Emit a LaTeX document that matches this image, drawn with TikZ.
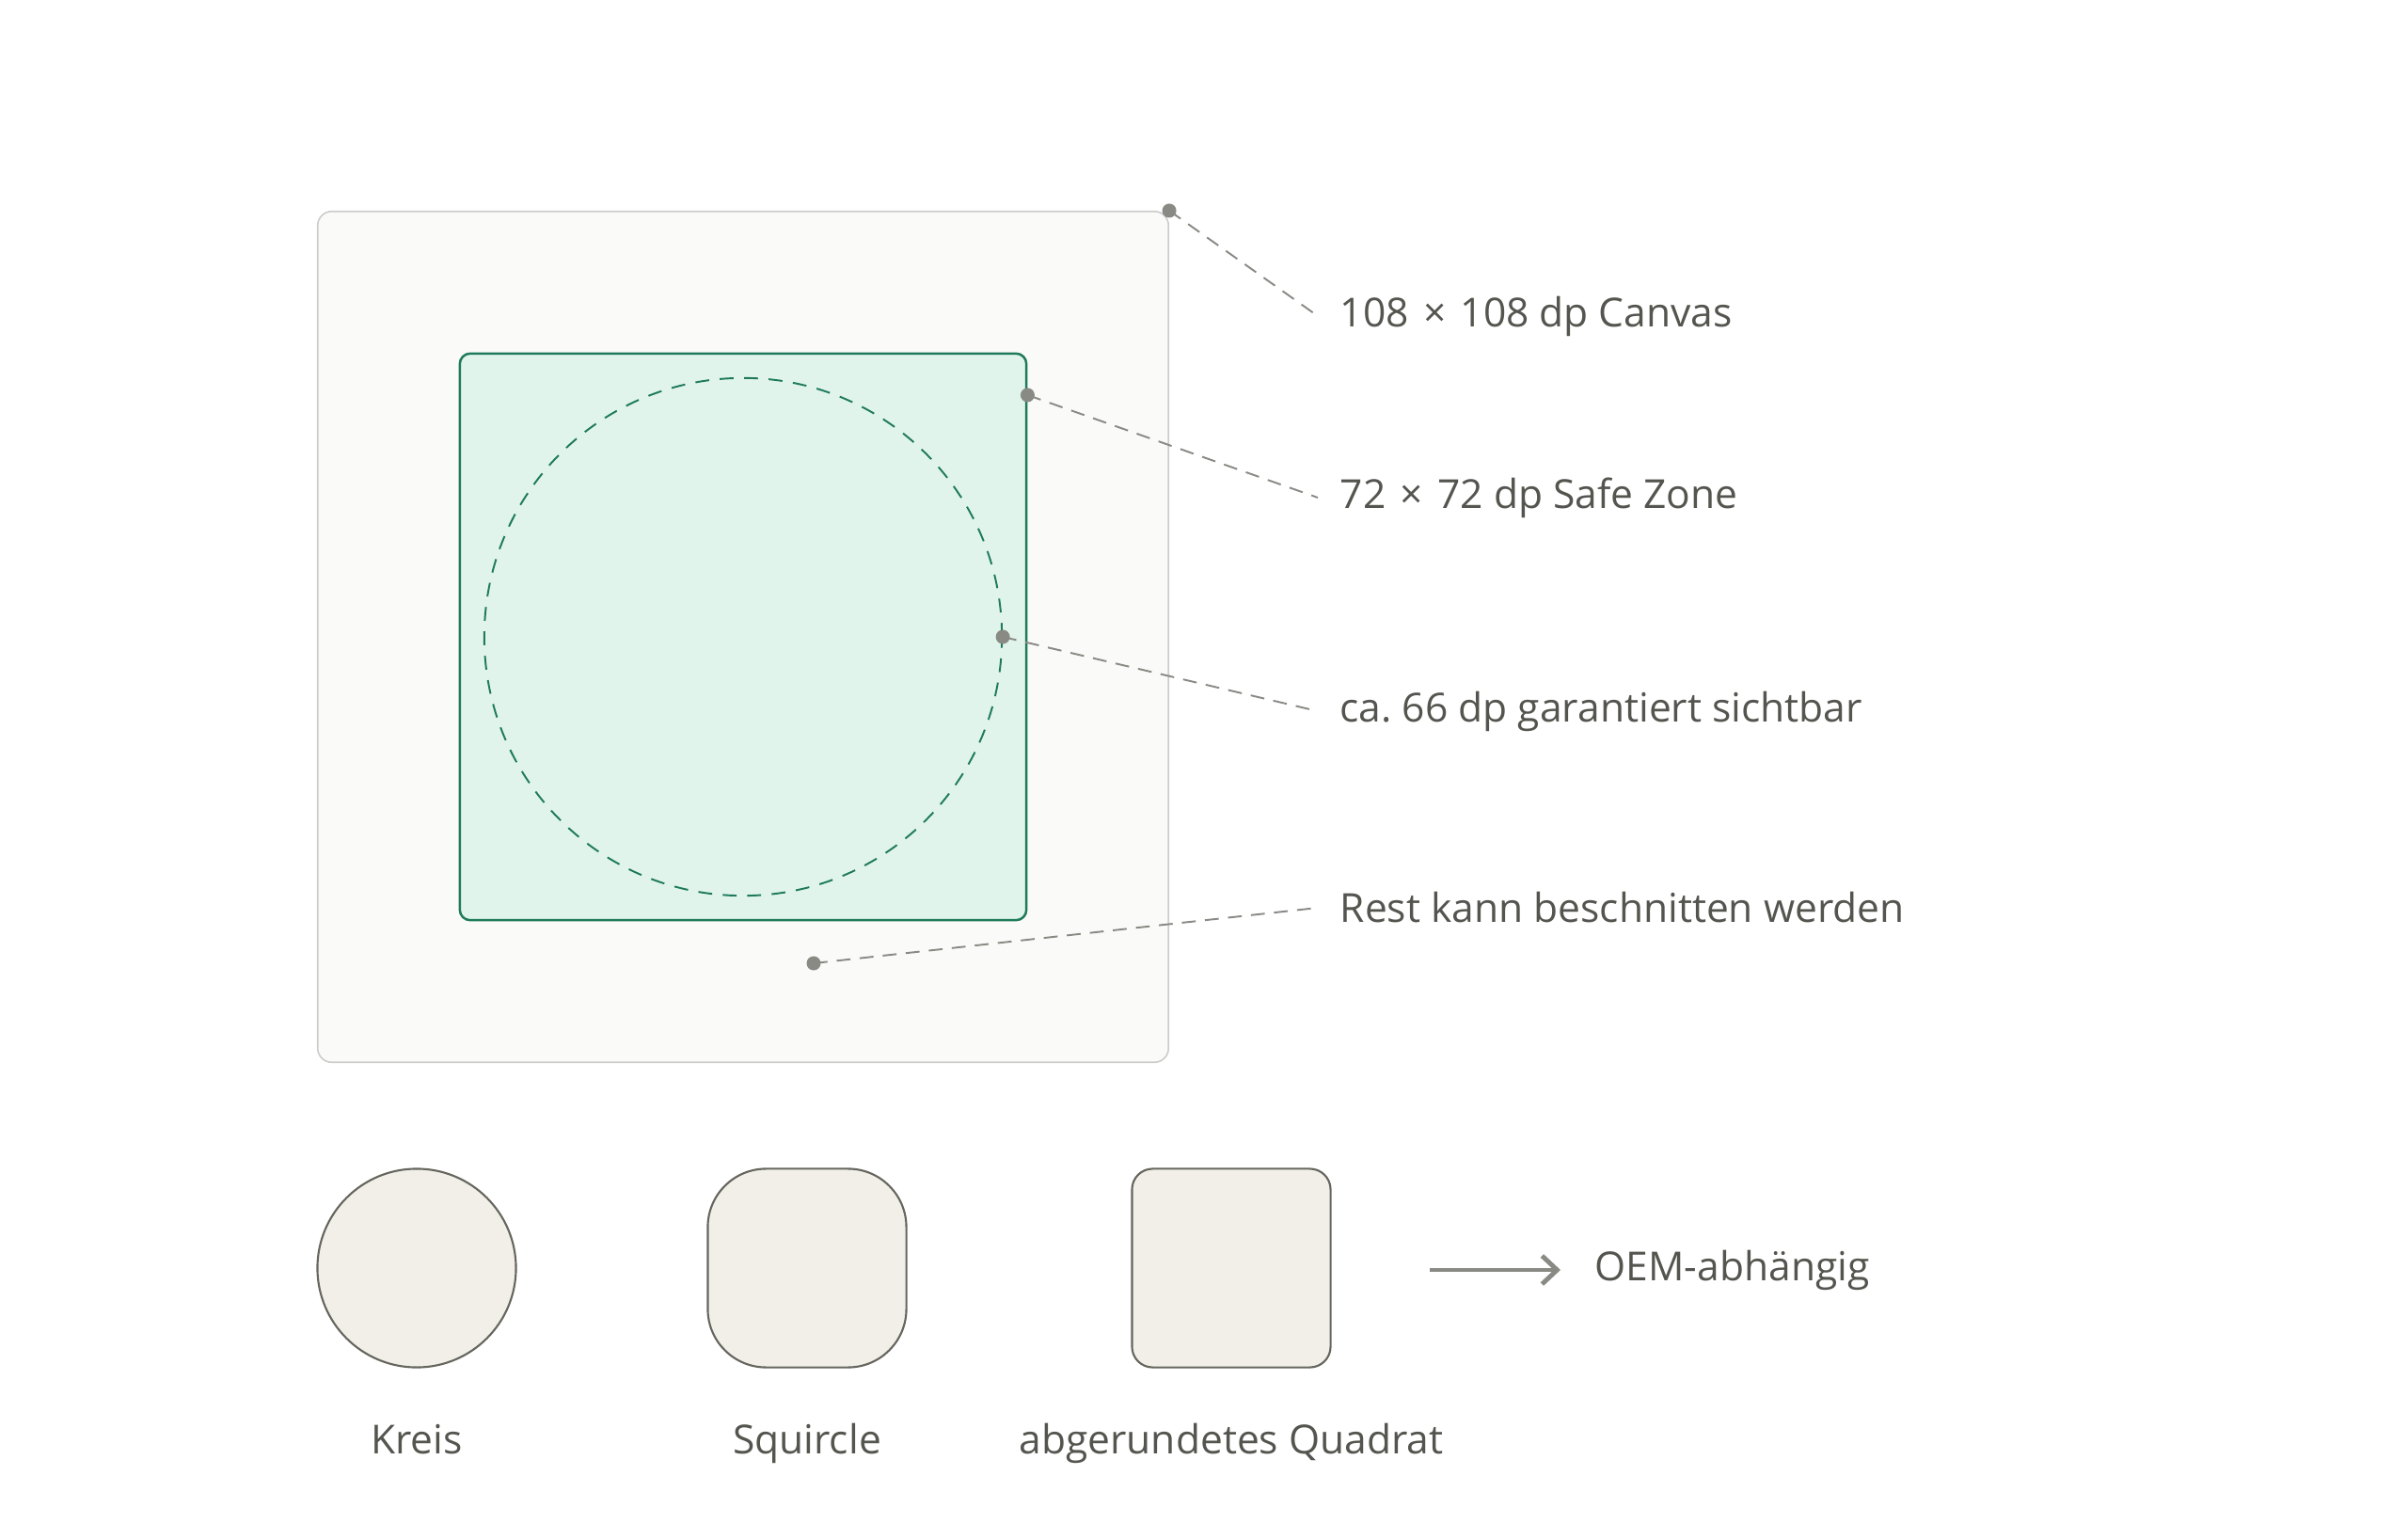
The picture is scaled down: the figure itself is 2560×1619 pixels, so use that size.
\documentclass[tikz,border=0pt]{standalone}
\usepackage{fontspec}
\setmainfont{Open Sans}
\usetikzlibrary{calc}
\usetikzlibrary{arrows.meta}
\frenchspacing

\definecolor{txt}{HTML}{555550}
\definecolor{lead}{HTML}{8A8A85}
\definecolor{canvasfill}{HTML}{FAFAF8}
\definecolor{canvasline}{HTML}{CCCCCA}
\definecolor{safefill}{HTML}{E0F4EC}
\definecolor{safeline}{HTML}{1F7A5C}
\definecolor{shapefill}{HTML}{F1EFE8}
\definecolor{shapeline}{HTML}{66665F}
\newcommand{\bytimes}{\hspace{0.36em}×\hspace{0.36em}}

\begin{document}
\begin{tikzpicture}[
     x=0.01cm, y=-0.01cm,
     lbl/.style={anchor=west,inner xsep=0.23cm,inner ysep=0pt,text=txt,font=\fontsize{12.1}{15}\selectfont},
     shapename/.style={anchor=base,inner sep=0pt,text=txt,font=\fontsize{12.1}{15}\selectfont},
     leader/.style={draw=lead,line width=0.55pt,dash pattern=on 4.2pt off 2.8pt},
     dot/.style={circle,fill=lead,inner sep=0pt,minimum size=0.15cm},
     mask/.style={draw=shapeline,fill=shapefill,line width=0.6pt,minimum size=2.11cm,inner sep=0pt}
   ]
   \path[use as bounding box] (0,0) rectangle (2560,1619);
   % Canvas and safe zone.
   \node[draw=canvasline,fill=canvasfill,line width=0.45pt,rounded corners=0.15cm,
         minimum size=9.04cm,inner sep=0pt] (canvas) at (790,677) {};
   \node[draw=safeline,fill=safefill,line width=0.7pt,rounded corners=0.11cm,
         minimum size=6.02cm,inner sep=0pt] (safe) at (790,677) {};
   \node[circle,draw=safeline,line width=0.55pt,dash pattern=on 4.2pt off 3.2pt,
         minimum size=5.5cm,inner sep=0pt] (visible) at (790,677) {};
   % Labels.
   \node[lbl] (lcanvas) at (1401,336) {108\bytimes108 dp Canvas};
   \node[lbl] (lsafe) at (1401,529) {72\bytimes72 dp Safe Zone};
   \node[lbl] (lvisible) at (1401,756) {ca. 66 dp garantiert sichtbar};
   \node[lbl] (lrest) at (1401,965) {Rest kann beschnitten werden};
   % Pointers.
   \coordinate (pcanvas) at (canvas.north east);
   \coordinate (psafe) at ($(safe.north east)!0.075!(safe.south east)$);
   \coordinate (pvisible) at (visible.east);
   \coordinate (prest) at (865,1024);
   \draw[leader] (pcanvas) -- (lcanvas.west);
   \draw[leader] (psafe) -- (lsafe.west);
   \draw[leader] (pvisible) -- (lvisible.west);
   \draw[leader] (prest) -- (lrest.west);
   \foreach \p in {pcanvas,psafe,pvisible,prest}
     \node[dot] at (\p) {};
   % Mask shapes.
   \node[mask,circle] (kreis) at (443,1348) {};
   \node[mask,rounded corners=0.62cm] (squircle) at (858,1348) {};
   \node[mask,rounded corners=0.22cm] (quadrat) at (1309,1348) {};
   \node[shapename] (lkreis) at (443,1545) {Kreis};
   \node[shapename] (lsquircle) at (858,1545) {Squircle};
   \node[shapename] (lquadrat) at (1309,1545) {abgerundetes Quadrat};
   \coordinate (oemstart) at (1520,1350);
   \node[lbl,inner xsep=0.36cm] (oem) at (1659,1350) {OEM-abhängig};
   \draw[draw=lead,line width=1.4pt,-{Straight Barb[length=0.16cm,width=0.3cm,line width=1.4pt]}]
     (oemstart) -- (oem.west);
 \end{tikzpicture}
\end{document}
